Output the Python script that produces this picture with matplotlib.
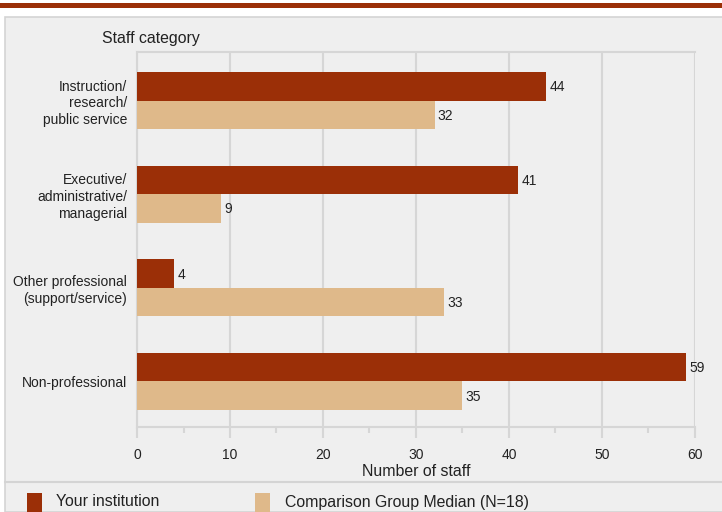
import numpy as np
import matplotlib
matplotlib.use('Agg')
from matplotlib import pyplot as plt
from matplotlib.patches import Rectangle

plt.rcParams['font.family'] = ['Liberation Sans', 'DejaVu Sans']

# Data
categories = ['Instruction/\nresearch/\npublic service',
              'Executive/\nadministrative/\nmanagerial',
              'Other professional\n(support/service)',
              'Non-professional']
institution = [44, 41, 4, 59]
comparison = [32, 9, 33, 35]
series_names = ['Your institution', 'Comparison Group Median (N=18)']

dark = '#9b2f07'
tan = '#dfb98a'
panel = '#efefef'
gridc = '#d6d6d6'
txt = '#222222'

W, H = 722, 512
fig = plt.figure(figsize=(W / 100, H / 100), dpi=100)
fig.patch.set_facecolor('white')

# top band and grey panel (behind the axes)
fig.patches.append(Rectangle((0, 1 - 8 / H), 1, 5 / H, transform=fig.transFigure,
                             facecolor=dark, edgecolor='none', zorder=-2))
fig.patches.append(Rectangle((5 / W, 0), 1, 1 - 17 / H, transform=fig.transFigure,
                             facecolor=panel, edgecolor='#d4d4d4', linewidth=1.2, zorder=-2))
fig.lines.append(plt.Line2D([5 / W, 1], [1 - 482 / H, 1 - 482 / H], transform=fig.transFigure,
                            color='#d4d4d4', linewidth=1.5, zorder=-1))

ax = fig.add_axes([137 / W, 1 - 427 / H, 558 / W, 375 / H])
ax.set_facecolor(panel)

y = np.arange(len(categories))
h = 0.304
ax.barh(y - h / 2, institution, height=h, color=dark, zorder=3)
ax.barh(y + h / 2, comparison, height=h, color=tan, zorder=3)

for i in range(len(categories)):
    ax.text(institution[i] + 0.35, y[i] - h / 2 + 0.01, str(institution[i]), va='center',
            ha='left', fontsize=10, color=txt)
    ax.text(comparison[i] + 0.35, y[i] + h / 2 + 0.01, str(comparison[i]), va='center',
            ha='left', fontsize=10, color=txt)

ax.set_ylim(len(categories) - 0.514, -0.518)
ax.set_xlim(0, 60)
ax.set_yticks(y)
ax.set_yticklabels(categories, fontsize=10, color=txt, linespacing=1.25)
ax.set_xticks(range(0, 61, 10))
ax.set_xticks(range(5, 60, 10), minor=True)
ax.tick_params(axis='x', which='major', length=8, width=1.5, color=gridc, labelsize=10,
               labelcolor=txt, pad=7)
ax.tick_params(axis='x', which='minor', length=4, width=1.5, color=gridc)
ax.tick_params(axis='y', length=0, pad=7)
ax.grid(axis='x', color=gridc, linewidth=1.5, zorder=0)
for s in ax.spines.values():
    s.set_color(gridc)
    s.set_linewidth(1.5)
ax.spines['right'].set_visible(False)
ax.set_xlabel('Number of staff', fontsize=11.4, color=txt, labelpad=1.5)

fig.text(102 / W, 1 - 38 / H, 'Staff category', fontsize=11.4, color=txt, va='center')

# legend
fig.patches.append(Rectangle((27 / W, 1 - 512 / H), 15 / W, 19 / H, transform=fig.transFigure,
                             facecolor=dark, edgecolor='none'))
fig.text(56 / W, 1 - 502 / H, series_names[0], fontsize=11.4, color=txt, va='center')
fig.patches.append(Rectangle((255 / W, 1 - 512 / H), 15 / W, 19 / H, transform=fig.transFigure,
                             facecolor=tan, edgecolor='none'))
fig.text(285 / W, 1 - 502 / H, series_names[1], fontsize=11.4, color=txt, va='center')

fig.savefig('out.png', dpi=100)
